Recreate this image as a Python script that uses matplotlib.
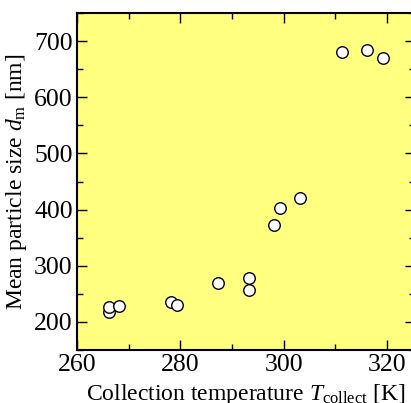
import matplotlib
matplotlib.use('Agg')
import matplotlib.pyplot as plt
from matplotlib.ticker import MultipleLocator

# collection temperature [K] and mean particle size [nm]
T_collect = [266.1, 266.2, 268.2, 278.1, 279.3, 287.2, 293.2, 293.2,
             298.2, 299.2, 303.2, 311.2, 316.2, 319.3]
d_m = [217, 227, 228, 236, 231, 269, 279, 256,
       372, 402, 420, 680, 685, 670]

plt.rcParams['font.family'] = 'Liberation Serif'
plt.rcParams['mathtext.fontset'] = 'custom'
plt.rcParams['mathtext.rm'] = 'Liberation Serif'
plt.rcParams['mathtext.it'] = 'Liberation Serif:italic'
plt.rcParams['font.size'] = 17

fig = plt.figure(figsize=(4.11, 4.03), dpi=100)
ax = fig.add_axes([77/411, 53/403, 338/411, 337/403])
ax.set_facecolor('#ffff80')

ax.plot(T_collect, d_m, 'o', markersize=8.3, markerfacecolor='white',
        markeredgecolor='black', markeredgewidth=1.0, clip_on=False)

ax.set_xlim(260, 325.4)
ax.set_ylim(150, 750)
ax.xaxis.set_major_locator(MultipleLocator(20))
ax.xaxis.set_minor_locator(MultipleLocator(10))
ax.yaxis.set_major_locator(MultipleLocator(100))
ax.yaxis.set_minor_locator(MultipleLocator(50))
ax.tick_params(which='both', direction='in', top=True, right=True, width=1.0,
               labelsize=18.5)
ax.tick_params(which='major', length=7, pad=3)
ax.tick_params(which='minor', length=4)
for s in ax.spines.values():
    s.set_linewidth(1.5)

ax.set_xlabel('Collection temperature $T_\\mathrm{collect}$ [K]', labelpad=4)
ax.set_ylabel('Mean particle size $d_\\mathrm{m}$ [nm]', labelpad=4)

fig.savefig('out.png', dpi=100)
